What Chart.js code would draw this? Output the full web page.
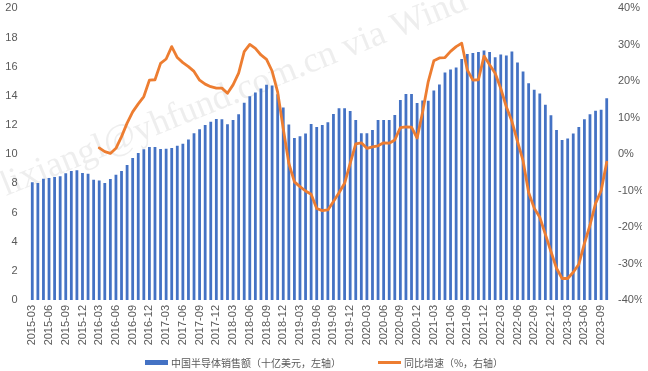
<!DOCTYPE html>
<html>
<head>
<meta charset="utf-8">
<script src="https://cdn.jsdelivr.net/npm/chart.js@4/dist/chart.umd.min.js"></script>
<style>
  html, body { margin: 0; padding: 0; background: #fff; }
  #wrap { width: 648px; height: 371px; position: relative; }
  #leyenda {
    position: absolute; left: 0; right: 0; bottom: 0; height: 18px;
    display: flex; justify-content: center; align-items: center; gap: 37px;
    font-family: 'Noto Sans CJK SC', sans-serif; font-size: 10px; color: #595959;
  }
  #leyenda .item { display: flex; align-items: center; }
  #leyenda .caja { width: 23px; height: 5px; margin-right: 3px; }
</style>
</head>
<body>
<div id="wrap"><canvas id="grafica"></canvas><div id="leyenda"></div></div>
<script>
// meses 2015-03 .. 2023-10
const startYear = 2015, startMonth = 3, numMonths = 104;
const months = [];
for (let i = 0; i < numMonths; i++) {
  const m = startMonth - 1 + i;
  const y = startYear + Math.floor(m / 12);
  const mm = (m % 12) + 1;
  months.push(y + "-" + (mm < 10 ? "0" + mm : mm));
}

// ventas de semiconductores en China (mil millones USD, eje izq.)
const sales = [
  8.07, 8.03, 8.32, 8.36, 8.43, 8.48, 8.69, 8.85, 8.9, 8.71, 8.66, 8.24,
  8.2, 8.03, 8.3, 8.58, 8.85, 9.26, 9.74, 10.08, 10.33, 10.49, 10.49, 10.35,
  10.37, 10.42, 10.58, 10.72, 11.0, 11.43, 11.7, 12.0, 12.23, 12.41, 12.39, 12.05,
  12.35, 12.73, 13.53, 13.97, 14.22, 14.5, 14.75, 14.7, 14.1, 13.2, 12.03, 11.11,
  11.22, 11.41, 12.07, 11.87, 12.0, 12.19, 12.76, 13.15, 13.15, 12.96, 12.35, 11.43,
  11.43, 11.66, 12.35, 12.35, 12.35, 12.69, 13.72, 14.12, 14.12, 13.5, 13.68, 13.66,
  14.36, 14.78, 15.6, 15.81, 15.94, 16.53, 16.86, 16.93, 17.0, 17.11, 17.0, 16.64,
  16.83, 16.76, 17.03, 16.28, 15.66, 14.86, 14.42, 14.16, 13.39, 12.66, 11.66, 10.97,
  11.07, 11.42, 11.87, 12.4, 12.73, 12.98, 13.04, 13.83
];

// crecimiento interanual (%, eje der.)
const growth = [
  null, null, null, null, null, null, null, null, null, null, null, null,
  1.7, 0.7, 0.2, 1.6, 4.8, 8.5, 11.6, 13.8, 15.8, 20.3, 20.4, 24.9,
  26.1, 29.5, 26.5, 25.1, 24.0, 22.7, 20.3, 19.2, 18.5, 18.1, 18.1, 16.7,
  19.0, 22.2, 28.1, 30.1, 29.0, 27.2, 26.0, 22.8, 17.0, 7.0, -2.5, -7.6,
  -8.9, -10.1, -11.0, -14.9, -15.5, -15.3, -13.0, -10.6, -8.0, -2.5, 2.8, 3.1,
  1.6, 2.0, 2.3, 3.1, 3.0, 3.9, 7.3, 7.5, 7.4, 4.4, 11.6, 19.9,
  25.6, 26.4, 26.5, 28.2, 29.5, 30.4, 23.1, 20.3, 20.4, 26.9, 24.5, 22.2,
  18.0, 13.0, 9.0, 3.5, -1.8, -10.5, -14.8, -17.3, -22.0, -26.7, -31.3, -34.1,
  -34.1, -32.4, -30.2, -24.5, -19.5, -13.5, -10.0, -2.2
];

const leftTicks = [0, 20, 2];
const rightTicks = [-40, 40, 10];
const seriesNames = ["中国半导体销售额（十亿美元，左轴）", "同比增速（%，右轴）"];
const seriesColors = ["#4472C4", "#ED7D31"];

const tickFont = { family: "'Liberation Sans', Arial, sans-serif", size: 11 };
const grey = "#595959";

// marca de agua tenue
const marcaAgua = {
  id: "marcaAgua",
  beforeDraw(chart) {
    const c = chart.ctx;
    c.save();
    c.translate(6, 196);
    c.rotate(-22 * Math.PI / 180);
    c.font = "36px 'Liberation Serif', serif";
    c.fillStyle = "rgba(170,170,170,0.2)";
    c.fillText("lixiangl@yhfund.com.cn via Wind", 0, 0);
    c.restore();
  }
};

// tamanos fijos de las escalas
function ajusteX(scale) { scale.paddingLeft = 0; scale.paddingRight = 0; scale.height = 45; }
function ajusteY(scale) { scale.paddingTop = 0; scale.paddingBottom = 0; scale.width = 24.5; }
function ajusteY1(scale) { scale.paddingTop = 0; scale.paddingBottom = 0; scale.width = 32.5; }

const ctx = document.getElementById("grafica");
new Chart(ctx, {
  type: "bar",
  data: {
    labels: months,
    datasets: [
      {
        label: seriesNames[0],
        data: sales,
        yAxisID: "y",
        backgroundColor: seriesColors[0],
        borderWidth: 0,
        barPercentage: 0.5,
        categoryPercentage: 1,
        order: 2
      },
      {
        type: "line",
        label: seriesNames[1],
        data: growth,
        yAxisID: "y1",
        borderColor: seriesColors[1],
        backgroundColor: seriesColors[1],
        borderWidth: 2.8,
        pointRadius: 0,
        tension: 0,
        borderJoinStyle: "round",
        borderCapStyle: "round",
        order: 1
      }
    ]
  },
  options: {
    responsive: true,
    maintainAspectRatio: false,
    animation: false,
    layout: { padding: { left: 5, right: 6, top: 8.3, bottom: 26 } },
    plugins: {
      tooltip: { enabled: false },
      legend: { display: false }
    },
    scales: {
      x: {
        offset: true,
        afterFit: ajusteX,
        grid: { display: false, drawTicks: false },
        border: { display: false },
        ticks: {
          autoSkip: false,
          minRotation: 90,
          maxRotation: 90,
          padding: 5,
          color: grey,
          font: tickFont,
          callback: function (v, i) { return i % 3 === 0 ? months[i] : null; }
        }
      },
      y: {
        position: "left",
        min: leftTicks[0],
        max: leftTicks[1],
        afterFit: ajusteY,
        grid: { display: false, drawTicks: false },
        border: { display: false },
        ticks: { stepSize: leftTicks[2], padding: 12, color: grey, font: tickFont }
      },
      y1: {
        position: "right",
        min: rightTicks[0],
        max: rightTicks[1],
        afterFit: ajusteY1,
        grid: { display: false, drawTicks: false },
        border: { display: false },
        ticks: {
          stepSize: rightTicks[2],
          padding: 8.5,
          color: grey,
          font: tickFont,
          callback: (v) => v + "%"
        }
      }
    }
  },
  plugins: [marcaAgua]
});

// leyenda en HTML
const leyenda = document.getElementById("leyenda");
seriesNames.forEach((name, i) => {
  const item = document.createElement("div");
  item.className = "item";
  const caja = document.createElement("span");
  caja.className = "caja";
  caja.style.background = seriesColors[i];
  if (i === 1) { caja.style.height = "3px"; }
  const texto = document.createElement("span");
  texto.textContent = name;
  item.appendChild(caja);
  item.appendChild(texto);
  leyenda.appendChild(item);
});
</script>
</body>
</html>
